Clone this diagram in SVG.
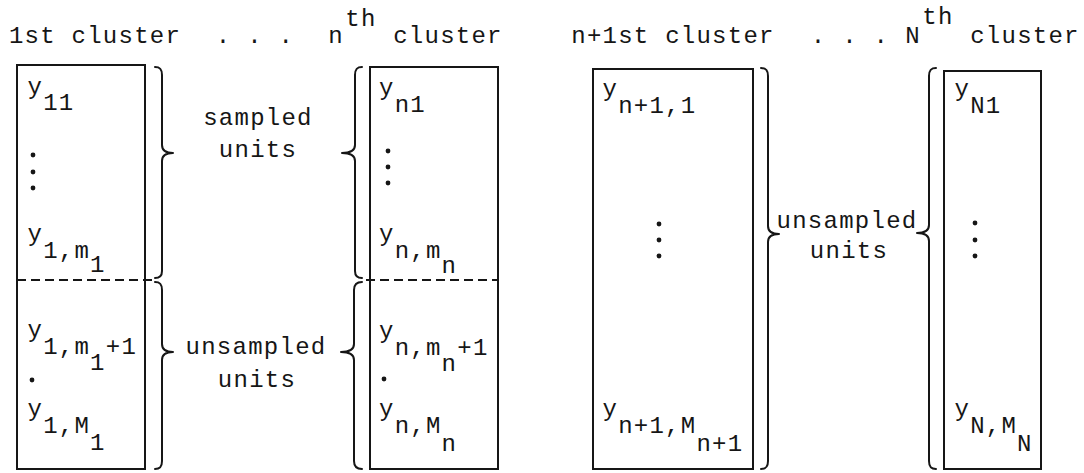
<svg xmlns="http://www.w3.org/2000/svg" width="1084" height="473" viewBox="0 0 1084 473">
  <style>
    .t { font-family: "Liberation Mono", "DejaVu Sans Mono", monospace; font-size: 24px; letter-spacing: 1.25px; fill: #161616; }
    .c { text-anchor: middle; }
    .dot { fill: #161616; }
    .box { fill: none; stroke: #161616; stroke-width: 2; }
    .cut { fill: none; stroke: #161616; stroke-width: 2; stroke-dasharray: 9 5; }
    .brace { fill: none; stroke: #161616; stroke-width: 2; stroke-linecap: round; stroke-linejoin: round; }
  </style>
  <defs>
    <circle id="pt" r="2.4" class="dot"/>
  </defs>
  <rect width="1084" height="473" fill="#ffffff"/>

  <!-- column headings -->
  <g id="headings">
    <text class="t c" x="95" y="43">1st cluster</text>
    <text class="t c" x="255" y="43">. . .</text>
    <text class="t c" x="336" y="43">n</text>
    <text class="t c" x="361" y="26">th</text>
    <text class="t c" x="448" y="43">cluster</text>
    <text class="t c" x="673" y="43">n+1st cluster</text>
    <text class="t c" x="850" y="43">. . .</text>
    <text class="t c" x="913" y="43">N</text>
    <text class="t c" x="938" y="24">th</text>
    <text class="t c" x="1025" y="43">cluster</text>
  </g>

  <!-- cluster 1 -->
  <g id="cluster-1">
    <rect class="box" x="17" y="65" width="128" height="404"/>
    <line class="cut" x1="17" y1="280" x2="152" y2="280"/>
    <text class="t" x="27.5" y="94">y</text><text class="t" x="43.15" y="110">11</text>
    <use href="#pt" x="33" y="155"/><use href="#pt" x="33" y="172"/><use href="#pt" x="33" y="188"/>
    <text class="t" x="27.5" y="241">y</text><text class="t" x="43.15" y="258">1,m</text><text class="t" x="90.1" y="272">1</text>
    <text class="t" x="27.5" y="337">y</text><text class="t" x="43.15" y="354">1,m</text><text class="t" x="90.1" y="370">1</text><text class="t" x="105.75" y="354">+1</text>
    <use href="#pt" x="32" y="380"/>
    <text class="t" x="27.5" y="416">y</text><text class="t" x="43.15" y="433">1,M</text><text class="t" x="90.1" y="450">1</text>
  </g>

  <!-- cluster n -->
  <g id="cluster-n">
    <rect class="box" x="370" y="67" width="128" height="402"/>
    <line class="cut" x1="366" y1="280" x2="498" y2="280"/>
    <text class="t" x="379" y="95">y</text><text class="t" x="394.65" y="112">n1</text>
    <use href="#pt" x="388" y="151"/><use href="#pt" x="388" y="167"/><use href="#pt" x="388" y="183"/>
    <text class="t" x="379" y="241">y</text><text class="t" x="394.65" y="258">n,m</text><text class="t" x="441.6" y="273">n</text>
    <text class="t" x="379" y="338">y</text><text class="t" x="394.65" y="355">n,m</text><text class="t" x="441.6" y="371">n</text><text class="t" x="457.25" y="355">+1</text>
    <use href="#pt" x="384" y="379"/>
    <text class="t" x="379" y="416">y</text><text class="t" x="394.65" y="433">n,M</text><text class="t" x="441.6" y="451">n</text>
  </g>

  <!-- cluster n+1 -->
  <g id="cluster-n1">
    <rect class="box" x="593" y="69" width="160" height="400"/>
    <text class="t" x="602.5" y="96">y</text><text class="t" x="618.15" y="113">n+1,1</text>
    <use href="#pt" x="659" y="224"/><use href="#pt" x="659" y="240"/><use href="#pt" x="659" y="256"/>
    <text class="t" x="602.5" y="416">y</text><text class="t" x="618.15" y="433">n+1,M</text><text class="t" x="696.4" y="451">n+1</text>
  </g>

  <!-- cluster N -->
  <g id="cluster-N">
    <rect class="box" x="944" y="71" width="97" height="398"/>
    <text class="t" x="954.5" y="96">y</text><text class="t" x="970.15" y="113">N1</text>
    <use href="#pt" x="975" y="223"/><use href="#pt" x="975" y="240"/><use href="#pt" x="975" y="256"/>
    <text class="t" x="954.5" y="416">y</text><text class="t" x="970.15" y="433">N,M</text><text class="t" x="1017.1" y="451">N</text>
  </g>

  <!-- braces grouping sampled / unsampled units -->
  <g id="braces">
    <path class="brace" d="M155,67 C160,67 162,69 162,75 L162,145 C162,150 166,153 173,153 C166,153 162,156 162,161 L162,271 C162,276 160,278 155,278"/>
    <path class="brace" d="M155,282 C160,282 162,284 162,290 L162,344 C162,349 166,352 173,352 C166,352 162,355 162,360 L162,461 C162,467 160,469 155,469"/>
    <path class="brace" d="M362,67 C357,67 355,69 355,75 L355,145 C355,150 351,153 342,153 C351,153 355,156 355,161 L355,271 C355,276 357,278 362,278"/>
    <path class="brace" d="M362,282 C357,282 354,284 354,290 L354,344 C354,349 350,352 341,352 C350,352 354,355 354,360 L354,461 C354,467 357,469 362,469"/>
    <path class="brace" d="M761,68 C766,68 768,70 768,76 L768,226 C768,231 772,234 779,234 C772,234 768,237 768,242 L768,461 C768,467 766,469 761,469"/>
    <path class="brace" d="M936,68 C931,68 929,70 929,76 L929,225 C929,230 925,233 917,233 C925,233 929,236 929,241 L929,461 C929,467 931,469 936,469"/>
  </g>

  <!-- brace labels -->
  <g id="labels">
    <text class="t c" x="258" y="125">sampled</text>
    <text class="t c" x="258" y="157">units</text>
    <text class="t c" x="256" y="354">unsampled</text>
    <text class="t c" x="257" y="387">units</text>
    <text class="t c" x="847" y="228">unsampled</text>
    <text class="t c" x="849" y="258">units</text>
  </g>
</svg>
